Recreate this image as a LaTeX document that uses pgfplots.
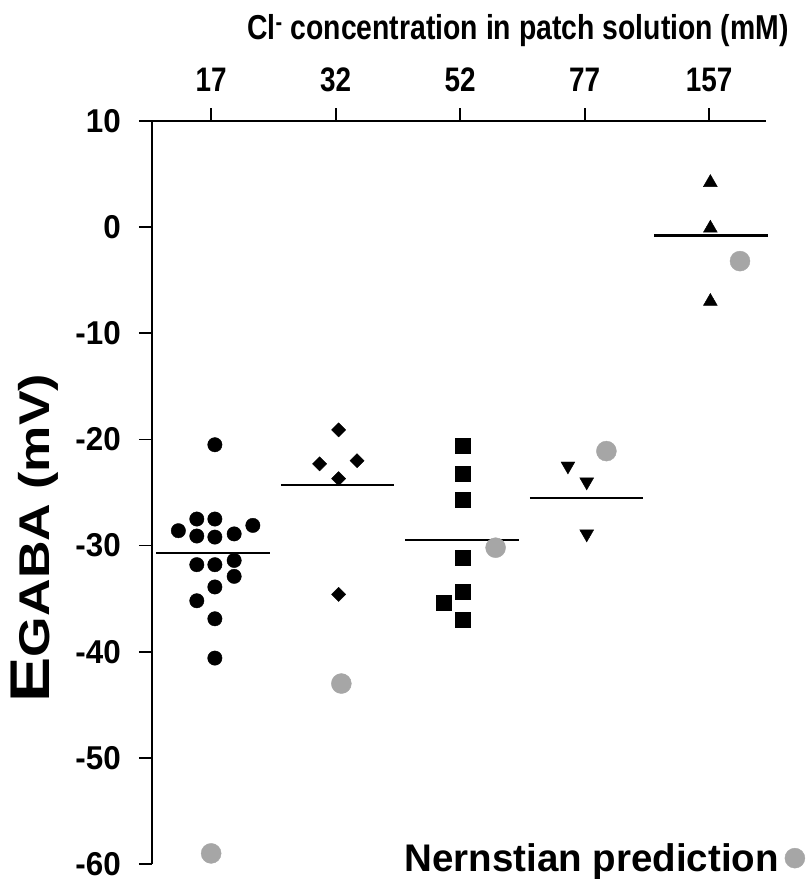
\documentclass[border=0pt]{standalone}
\usepackage{pgfplots}
\usepackage{pgfplotstable}
\pgfplotsset{compat=1.18}
\usepackage{fontspec}
\setmainfont{Liberation Sans}
\newfontfamily\nf{Liberation Sans}[FakeStretch=0.82]
\newfontfamily\nfy{Liberation Sans}[FakeStretch=0.95]
\definecolor{nern}{RGB}{166,166,166}

\pgfplotstableread{
x y
0.030 -20.5
-0.115 -27.5
0.030 -27.5
-0.263 -28.6
-0.115 -29.1
0.030 -29.2
0.185 -28.9
0.335 -28.1
-0.115 -31.8
0.030 -31.8
0.185 -31.4
0.185 -32.9
0.030 -33.9
-0.115 -35.2
0.030 -36.9
0.030 -40.6
}\gA
\pgfplotstableread{
x y
1.024 -19.1
0.871 -22.3
1.172 -22.0
1.024 -23.7
1.024 -34.6
}\gB
\pgfplotstableread{
x y
2.022 -20.6
2.022 -23.2
2.022 -25.7
2.022 -31.1
2.022 -34.3
1.869 -35.4
2.022 -37.0
}\gC
\pgfplotstableread{
x y
2.866 -22.5
3.017 -24.0
3.017 -28.9
}\gD
\pgfplotstableread{
x y
4.010 4.2
4.010 -0.1
4.010 -7.0
}\gE
\pgfplotstableread{
x y
0.000 -59.0
1.046 -43.0
2.285 -30.2
3.175 -21.1
4.248 -3.2
}\gN

\begin{document}
\begin{tikzpicture}[x=1pt,y=1pt]
\begin{axis}[
  at={(0,0)}, anchor=south west,
  scale only axis, width=614pt, height=743pt,
  xmin=-0.475, xmax=4.457, ymin=-60, ymax=10,
  axis x line=top, axis y line=left,
  axis line style={-, line width=1.8pt, black},
  tick style={line width=1.8pt, black},
  tick align=outside, major tick length=13pt,
  xtick={0,1,2,3,4}, xticklabels={17,32,52,77,157},
  ytick={-60,-50,-40,-30,-20,-10,0,10},
  yticklabels={-60,-50,-40,-30,-20,-10,0,10},
  xticklabel style={font=\nf\fontsize{34}{34}\selectfont\bfseries, anchor=south, inner sep=0pt},
  xticklabel shift=16pt,
  yticklabel style={font=\nfy\fontsize{33}{33}\selectfont\bfseries, anchor=east, inner sep=0pt, xshift=-18pt},
  clip=false,
  legend plot pos=right,
  legend style={draw=none, fill=none, inner sep=0pt, column sep=4pt,
    at={(axis cs:4.771,-59.45)}, anchor=east,
    font=\fontsize{38.5}{38.5}\selectfont\bfseries,
    nodes={inner sep=2pt}},
]
\addplot[forget plot, only marks, mark=*, mark size=7.2pt, black] table {\gA};
\addplot[forget plot, only marks, mark=square*, mark size=5pt, black, mark options={rotate=45}] table {\gB};
\addplot[forget plot, only marks, mark=square*, mark size=7.5pt, black] table {\gC};
\addplot[forget plot, only marks, mark=triangle*, mark size=8pt, black, mark options={rotate=180}] table {\gD};
\addplot[forget plot, only marks, mark=triangle*, mark size=8pt, black] table {\gE};
\addplot[only marks, mark=*, mark size=10pt, color=nern, mark options={draw=nern, fill=nern}] table {\gN};
\addlegendentry{Nernstian prediction}
\addplot[forget plot, line width=2.3pt, black] coordinates {(-0.44,-30.7) (0.47,-30.7)};
\addplot[forget plot, line width=2.3pt, black] coordinates {(0.56,-24.3) (1.47,-24.3)};
\addplot[forget plot, line width=2.3pt, black] coordinates {(1.56,-29.5) (2.47,-29.5)};
\addplot[forget plot, line width=2.3pt, black] coordinates {(2.56,-25.5) (3.47,-25.5)};
\addplot[forget plot, line width=2.3pt, black] coordinates {(3.56,-0.8) (4.47,-0.8)};
\end{axis}
\node[anchor=base west, inner sep=0pt, font=\nf\fontsize{34.6}{34.6}\selectfont\bfseries] at (95,824) {Cl\textsuperscript{-} concentration in patch solution (mM)};
\node[rotate=90, anchor=base, inner sep=0pt] at (-102,326) {\scalebox{1.21}[1]{\bfseries{\fontsize{56}{56}\selectfont E}{\fontsize{43}{43}\selectfont GABA (mV)}}};
\pgfresetboundingbox
\useasboundingbox (-152,-23) rectangle (654,864);
\end{tikzpicture}
\end{document}
